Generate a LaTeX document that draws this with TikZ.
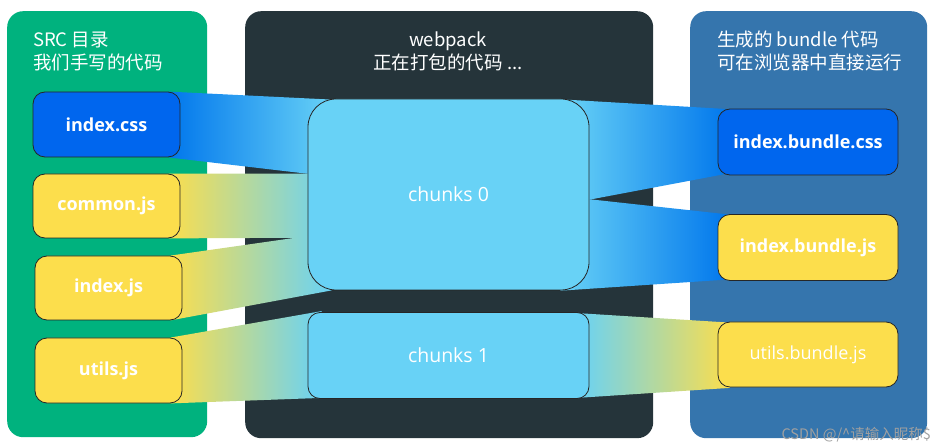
\documentclass[tikz,border=0pt]{standalone}
\usepackage{fontspec}
\setmainfont{Open Sans}
\newfontfamily\cjk{Noto Sans CJK SC}
\usetikzlibrary{calc}
\definecolor{pgreen}{RGB}{0,178,126}
\definecolor{pdark}{RGB}{37,52,58}
\definecolor{pblue}{RGB}{53,117,173}
\definecolor{cssblue}{RGB}{0,102,238}
\definecolor{fyellow}{RGB}{252,222,76}
\definecolor{chunkcyan}{RGB}{104,210,246}
\definecolor{bandblue}{RGB}{0,118,236}
\definecolor{bandbluemid}{RGB}{22,160,240}
\definecolor{bandbeige}{RGB}{236,221,140}
\definecolor{wmgray}{RGB}{160,160,160}
\pgfdeclarelayer{back}
\pgfdeclarelayer{mid}
\pgfsetlayers{back,mid,main}
\tikzset{
  panel/.style={anchor=north west, rounded corners=16pt, inner sep=0pt},
  titletext/.style={text=white, font=\cjk\fontsize{18.5}{22}\selectfont, inner sep=0pt},
  filebox/.style={draw=black!85, line width=0.8pt, rounded corners=12pt, minimum width=147pt, minimum height=65pt, text=white, font=\bfseries\fontsize{18}{22}\selectfont, inner sep=0pt},
  outbox/.style={filebox, minimum width=180pt, minimum height=66pt},
  chunkbox/.style={draw=black!85, line width=0.8pt, fill=chunkcyan, minimum width=281pt, text=white, font=\fontsize{19.5}{22}\selectfont, inner sep=0pt},
  bluein/.style={left color=bandblue, middle color=bandbluemid, right color=chunkcyan},
  blueout/.style={left color=chunkcyan, middle color=bandbluemid, right color=bandblue},
  yellowin/.style={left color=fyellow, middle color=bandbeige, right color=chunkcyan},
  yellowout/.style={left color=chunkcyan, middle color=bandbeige, right color=fyellow},
}
\begin{document}
\begin{tikzpicture}[x=1pt,y=-1pt]
\useasboundingbox (0,0) rectangle (932,446);
% panels
\begin{pgfonlayer}{back}
\node[panel, fill=pgreen, minimum width=200pt, minimum height=426pt] (src) at (7,11) {};
\node[panel, fill=pdark, minimum width=408pt, minimum height=427pt] (wp) at (245,11) {};
\node[panel, fill=pblue, minimum width=237pt, minimum height=427pt] (out) at (690,11) {};
\end{pgfonlayer}
% titles
\node[titletext, anchor=base west] (srct1) at (33,47) {SRC 目录};
\node[titletext, anchor=base west] (srct2) at (33,70) {我们手写的代码};
\node[titletext, anchor=base] (wpt1) at (448,47) {webpack};
\node[titletext, anchor=base] (wpt2) at (448,70) {正在打包的代码 ...};
\node[titletext, anchor=base west] (outt1) at (717,47) {生成的 bundle 代码};
\node[titletext, anchor=base west] (outt2) at (717,70) {可在浏览器中直接运行};
% source files
\node[filebox, fill=cssblue] (css) at (106.5,124.5) {index.css};
\node[filebox, fill=fyellow, minimum height=64pt] (common) at (106.5,206) {common.js};
\node[filebox, fill=fyellow, minimum height=64pt] (idx) at (108.5,288) {index.js};
\node[filebox, fill=fyellow] (utils) at (108.5,370.5) {utils.js};
% chunks
\node[chunkbox, rounded corners=28pt, minimum height=191pt] (c0) at (448.5,194.5) {chunks 0};
\node[chunkbox, rounded corners=12pt, minimum height=86pt] (c1) at (448.5,355.5) {chunks 1};
% outputs
\node[outbox, fill=cssblue] (ibcss) at (808,142) {index.bundle.css};
\node[outbox, fill=fyellow] (ibjs) at (808,247.5) {index.bundle.js};
\node[outbox, fill=fyellow, minimum height=65pt, font=\fontsize{18}{22}\selectfont] (ubjs) at (808,354.5) {utils.bundle.js};
% bands
\begin{pgfonlayer}{mid}
\shade[bluein] ($(css.north east)+(-12,0)$) -- ($(c0.north west)+(24,1)$) -- ($(c0.north west)+(24,78)$) -- ($(css.south east)+(-12,0)$) -- cycle;
\shade[yellowin] ($(common.north east)+(-12,0)$) -- ($(c0.north west)+(24,75)$) -- ($(c0.north west)+(24,139)$) -- ($(common.south east)+(-12,0)$) -- cycle;
\shade[yellowin] ($(idx.north east)+(-12,0)$) -- ($(c0.north west)+(24,134)$) -- ($(c0.south west)+(24,0)$) -- ($(idx.south east)+(-12,0)$) -- cycle;
\shade[yellowin] ($(utils.north east)+(-12,0)$) -- ($(c1.north west)+(14,-1)$) -- ($(c1.south west)+(14,-1)$) -- ($(utils.south east)+(-12,0)$) -- cycle;
\shade[blueout] ($(c0.north east)+(-24,1)$) -- ($(ibcss.north west)+(12,0.6)$) -- ($(ibcss.south west)+(12,-2.2)$) -- ($(c0.north east)+(-24,105.6)$) -- cycle;
\shade[blueout] ($(c0.north east)+(-24,98)$) -- ($(ibjs.north west)+(12,0.5)$) -- ($(ibjs.south west)+(12,-1.5)$) -- ($(c0.south east)+(-29,0.3)$) -- cycle;
\shade[yellowout] ($(c1.north east)+(-12,1)$) -- ($(ubjs.north west)+(12,1)$) -- ($(ubjs.south west)+(12,0.5)$) -- ($(c1.south east)+(-12,-1)$) -- cycle;
\end{pgfonlayer}
% watermark
\node[anchor=base east, text=wmgray, font=\cjk\fontsize{14.5}{15}\selectfont, inner sep=0pt] (wm) at (931,439) {CSDN @/\textasciicircum 请输入昵称\$};
\end{tikzpicture}
\end{document}
